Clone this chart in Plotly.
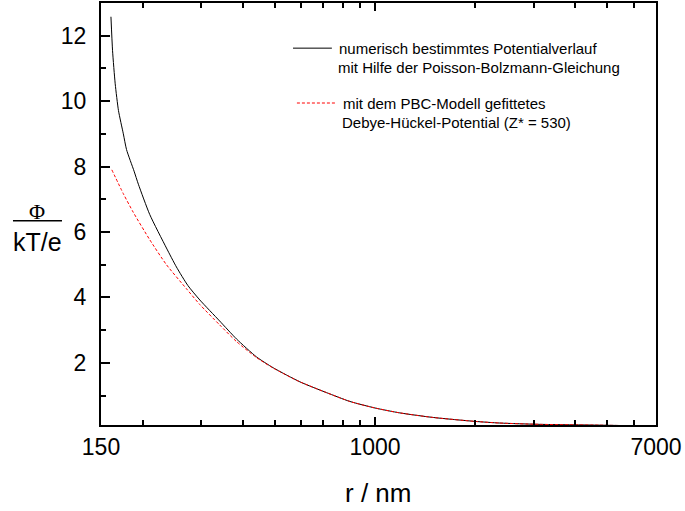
import plotly.graph_objects as go

# Numerically determined potential (Poisson-Boltzmann)
r_pb = [160.7, 162.5, 165.5, 169.3, 175.1, 179.0, 188.6, 194.3, 210.3, 236.0, 252.9, 273.9, 297.5, 341.1,
        383.3, 440.5, 494.2, 594.4, 714.8, 840.6, 1000, 1188, 1497, 2000, 2375, 3134, 4748, 7000]
phi_pb = [12.58, 11.54, 10.53, 9.71, 9.00, 8.52, 7.86, 7.46, 6.53, 5.51, 4.93, 4.36, 3.92, 3.28,
          2.73, 2.18, 1.85, 1.42, 1.09, 0.82, 0.62, 0.47, 0.33, 0.21, 0.16, 0.12, 0.095, 0.064]

# Fitted Debye-Hueckel potential
r_dh = [161.7, 175.1, 187.6, 210.3, 236.0, 271.3, 297.5, 341.1, 383.3, 440.5, 494.2, 594.4, 714.8,
        840.6, 1000, 1188, 1497, 2000, 2375, 3134, 4748, 7000]
phi_dh = [7.90, 7.17, 6.60, 5.76, 5.00, 4.26, 3.78, 3.16, 2.65, 2.16, 1.84, 1.42, 1.09,
          0.82, 0.62, 0.47, 0.33, 0.21, 0.16, 0.12, 0.095, 0.064]

x_tickvals = [150, 1000, 7000]
x_ticktext = ["150", "1000", "7000"]
x_minor = [200, 300, 400, 500, 600, 700, 800, 900, 2000, 3000, 4000, 5000, 6000]
y_tickvals = [2, 4, 6, 8, 10, 12]
y_minor = [1, 3, 5, 7, 9, 11]

FONT = "Liberation Sans, Arial, sans-serif"

fig = go.Figure()
fig.add_trace(go.Scatter(x=r_pb, y=phi_pb, mode="lines",
                         line=dict(color="black", width=1, shape="spline", smoothing=0.6),
                         showlegend=False))
fig.add_trace(go.Scatter(x=r_dh, y=phi_dh, mode="lines",
                         line=dict(color="#ff0000", width=1, dash="3px,2px", shape="spline", smoothing=0.6),
                         showlegend=False))

fig.update_xaxes(type="log", range=[2.1761, 3.8451], showgrid=False, zeroline=False, automargin=False,
                 showline=True, linecolor="black", linewidth=2, mirror="ticks",
                 ticks="inside", ticklen=8, tickwidth=1.5, tickcolor="black",
                 tickmode="array", tickvals=x_tickvals, ticktext=x_ticktext,
                 tickfont=dict(family=FONT, size=23, color="black"),
                 minor=dict(tickmode="array", tickvals=x_minor, ticks="inside", ticklen=5, tickwidth=1.5, tickcolor="black"))
fig.update_yaxes(range=[0.1, 13], showgrid=False, zeroline=False, automargin=False,
                 showline=True, linecolor="black", linewidth=2, mirror=True,
                 ticks="inside", ticklen=9, tickwidth=1.5, tickcolor="black",
                 tickmode="array", tickvals=y_tickvals,
                 tickfont=dict(family=FONT, size=23, color="black"), ticklabelstandoff=8,
                 minor=dict(tickmode="array", tickvals=y_minor, ticks="inside", ticklen=5, tickwidth=1.5, tickcolor="black"))

# Legend (manual)
fig.add_shape(type="line", xref="paper", yref="paper", x0=0.346, x1=0.416, y0=0.893, y1=0.893,
              line=dict(color="black", width=1))
fig.add_shape(type="line", xref="paper", yref="paper", x0=0.353, x1=0.425, y0=0.763, y1=0.763,
              line=dict(color="#ff0000", width=1, dash="3px,2px"))
leg_font = dict(family=FONT, size=15, color="black")
for txt, x, y in [("numerisch bestimmtes Potentialverlauf", 0.425, 0.893),
                  ("mit Hilfe der Poisson-Bolzmann-Gleichung", 0.4235, 0.846),
                  ("mit dem PBC-Modell gefittetes", 0.432, 0.763),
                  ("Debye-Hückel-Potential (Z* = 530)", 0.4306, 0.716)]:
    fig.add_annotation(text=txt, xref="paper", yref="paper", x=x, y=y, xanchor="left", yanchor="middle",
                       showarrow=False, font=leg_font)

# Axis titles
fig.add_annotation(text="r / nm", xref="paper", yref="paper", x=0.499, y=-0.161, xanchor="center", yanchor="middle",
                   showarrow=False, font=dict(family=FONT, size=26, color="black"))
fig.add_annotation(text="Φ", xref="paper", yref="paper", x=-0.116, y=0.5055, xanchor="center", yanchor="middle",
                   showarrow=False, font=dict(family="Liberation Serif, serif", size=22, color="black"))
fig.add_shape(type="line", xref="paper", yref="paper", x0=-0.1586, x1=-0.0703, y0=0.484, y1=0.484,
              line=dict(color="black", width=1.5))
fig.add_annotation(text="kT/e", xref="paper", yref="paper", x=-0.1153, y=0.434, xanchor="center", yanchor="middle",
                   showarrow=False, font=dict(family=FONT, size=25, color="black"))

fig.update_layout(width=685, height=511, margin=dict(l=101, r=29, t=3, b=86),
                  plot_bgcolor="white", paper_bgcolor="white", showlegend=False)
fig.write_html("out.html", config={"displayModeBar": False},
               post_script="document.body.style.margin='0';document.body.style.padding='0';document.body.style.overflow='hidden';")
